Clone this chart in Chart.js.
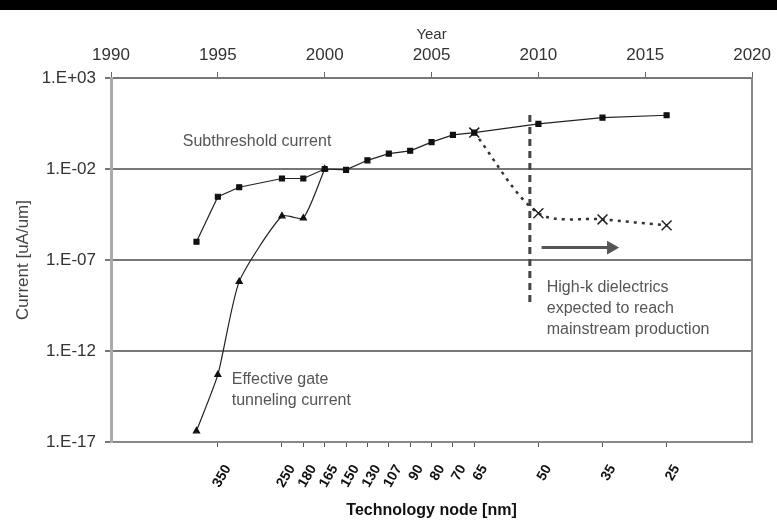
<!DOCTYPE html>
<html>
<head>
<meta charset="utf-8">
<script src="https://cdn.jsdelivr.net/npm/chart.js@4.4.1/dist/chart.umd.min.js"></script>
<style>
  html, body { margin: 0; padding: 0; background: #fff; }
  #wrap { width: 777px; height: 524px; }
</style>
</head>
<body>
<div id="wrap"><canvas id="chart" width="777" height="524"></canvas></div>
<script>
const years = [1994, 1995, 1996, 1998, 1999, 2000, 2001, 2002, 2003, 2004, 2005, 2006, 2007, 2010, 2013, 2016];
const subthreshold = [1e-6, 3e-4, 1e-3, 3e-3, 3e-3, 1e-2, 9e-3, 3e-2, 7e-2, 0.1, 0.3, 0.75, 1, 3, 6.6, 9];

const gateYears = [1994, 1995, 1996, 1998, 1999, 2000];
const gateCurrent = [4e-17, 5e-14, 6.5e-9, 2.6e-5, 2e-5, 1e-2];

const highkYears = [2007, 2010, 2013, 2016];
const highkCurrent = [1, 3.7e-5, 1.7e-5, 8e-6];

const nodeYears = [1995, 1998, 1999, 2000, 2001, 2002, 2003, 2004, 2005, 2006, 2007, 2010, 2013, 2016];
const nodeLabels = ['350', '250', '180', '165', '150', '130', '107', '90', '80', '70', '65', '50', '35', '25'];

const yearTicks = [1990, 1995, 2000, 2005, 2010, 2015, 2020];
const yTickValues = [1e3, 1e-2, 1e-7, 1e-12, 1e-17];
const yTickLabels = ['1.E+03', '1.E-02', '1.E-07', '1.E-12', '1.E-17'];

// high-k marker line and arrow
const markerYear = 2009.6;
const markerSpan = [9.4, 5e-10];
const arrowYears = [2010.15, 2013.4];
const arrowLevel = 4.8e-7;

const notes = [
    { x: 1993.36, y: Math.pow(10, -0.5), lines: ['Subthreshold current'] },
    { x: 1995.65, y: Math.pow(10, -13.55), lines: ['Effective gate', 'tunneling current'] },
    { x: 2010.39, y: Math.pow(10, -8.52), lines: ['High-k dielectrics', 'expected to reach', 'mainstream production'] }
];

const FONT = "'Liberation Sans', Arial, sans-serif";

const topBar = {
    id: 'topBar',
    beforeDraw(chart) {
        const ctx = chart.ctx;
        ctx.save();
        ctx.fillStyle = '#fff';
        ctx.fillRect(0, 0, chart.width, chart.height);
        ctx.fillStyle = '#000';
        ctx.fillRect(0, 0, chart.width, 10);
        ctx.restore();
    }
};

const notesPlugin = {
    id: 'notes',
    afterDatasetsDraw(chart) {
        const ctx = chart.ctx;
        const xs = chart.scales.x, ys = chart.scales.y;
        ctx.save();
        ctx.font = '16px ' + FONT;
        ctx.fillStyle = '#555';
        ctx.textBaseline = 'middle';
        ctx.textAlign = 'left';
        notes.forEach(n => {
            const px = xs.getPixelForValue(n.x);
            const py = ys.getPixelForValue(n.y);
            n.lines.forEach((t, i) => ctx.fillText(t, px, py + i * 21));
        });
        ctx.restore();
    }
};

const pts = (xs, vs) => xs.map((x, i) => ({ x: x, y: vs[i] }));

new Chart(document.getElementById('chart'), {
    type: 'line',
    data: {
        datasets: [
            {
                data: pts(years, subthreshold),
                borderColor: '#222', borderWidth: 1.2,
                pointStyle: 'rect', pointRadius: 3.5,
                pointBackgroundColor: '#111', pointBorderColor: '#111',
                tension: 0
            },
            {
                data: pts(gateYears, gateCurrent),
                borderColor: '#222', borderWidth: 1.2,
                pointStyle: 'triangle', pointRadius: 3.5,
                pointBackgroundColor: '#111', pointBorderColor: '#111',
                tension: 0.2
            },
            {
                data: pts(highkYears, highkCurrent),
                borderColor: '#333', borderWidth: 2.5, borderDash: [3, 5],
                pointStyle: 'crossRot', pointRadius: 7, pointBorderWidth: 1.5,
                pointBorderColor: '#222',
                tension: 0.3
            },
            {
                data: [{ x: markerYear, y: markerSpan[0] }, { x: markerYear, y: markerSpan[1] }],
                borderColor: '#444', borderWidth: 3, borderDash: [7, 5],
                pointRadius: 0
            },
            {
                data: pts(arrowYears, [arrowLevel, arrowLevel]),
                borderColor: '#555', borderWidth: 3,
                pointStyle: 'triangle', pointRotation: 90,
                pointRadius: [0, 5], pointBackgroundColor: '#555', pointBorderColor: '#555'
            }
        ]
    },
    options: {
        responsive: false,
        animation: false,
        layout: { padding: 0 },
        plugins: { legend: { display: false }, tooltip: { enabled: false } },
        scales: {
            x: {
                type: 'linear', position: 'bottom', min: 1990, max: 2020,
                afterBuildTicks: s => { s.ticks = nodeYears.map(v => ({ value: v })); },
                afterFit: s => { s.height = 82; },
                ticks: {
                    autoSkip: false, minRotation: 60, maxRotation: 60,
                    labelOffset: 10, padding: 15, color: '#111',
                    font: { family: FONT, size: 14, weight: 'bold' },
                    callback: (v, i) => nodeLabels[i]
                },
                grid: { drawOnChartArea: false, tickLength: 5, color: '#555' },
                border: { color: '#888', width: 2 },
                title: {
                    display: true, text: 'Technology node [nm]', color: '#111',
                    font: { family: FONT, size: 16, weight: 'bold' },
                    padding: { top: 0, bottom: 4 }
                }
            },
            xTop: {
                type: 'linear', position: 'top', min: 1990, max: 2020,
                afterBuildTicks: s => { s.ticks = yearTicks.map(v => ({ value: v })); },
                afterFit: s => { s.height = 78; },
                ticks: {
                    padding: 6, color: '#333',
                    font: { family: FONT, size: 17 },
                    callback: (v, i) => String(yearTicks[i])
                },
                grid: { drawOnChartArea: false, tickLength: 6, color: '#666' },
                border: { color: '#777', width: 2 },
                title: {
                    display: true, text: 'Year', color: '#333',
                    font: { family: FONT, size: 15 },
                    padding: { top: 26, bottom: 0 }
                }
            },
            y: {
                type: 'logarithmic', position: 'left', min: 1e-17, max: 1e3,
                afterBuildTicks: s => { s.ticks = yTickValues.map(v => ({ value: v })); },
                afterFit: s => { s.width = 111; },
                ticks: {
                    padding: 9, color: '#333',
                    font: { family: FONT, size: 17 },
                    callback: (v, i) => yTickLabels[i]
                },
                grid: { color: '#777', lineWidth: 2, tickLength: 6 },
                border: { color: '#aaa', width: 3 },
                title: {
                    display: true, text: 'Current [uA/um]', color: '#444',
                    font: { family: FONT, size: 17 },
                    padding: { top: 13, bottom: 0 }
                }
            },
            y2: {
                type: 'logarithmic', position: 'right', min: 1e-17, max: 1e3,
                afterFit: s => { s.width = 23; },
                ticks: { display: false },
                grid: { drawOnChartArea: false, drawTicks: false },
                border: { color: '#888', width: 2 }
            }
        }
    },
    plugins: [topBar, notesPlugin]
});
</script>
</body>
</html>
